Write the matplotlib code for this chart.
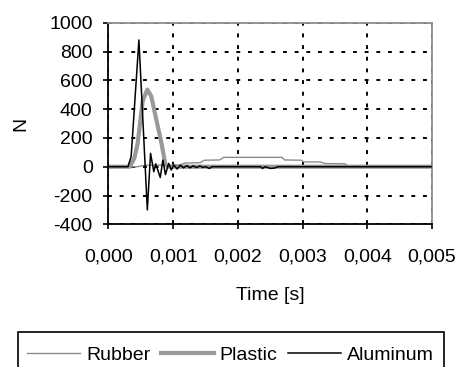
import matplotlib
matplotlib.use("Agg")
import matplotlib.pyplot as plt
from matplotlib.ticker import FixedLocator, FixedFormatter
from matplotlib.patches import Rectangle

plt.rcParams['font.family'] = ['Liberation Sans', 'DejaVu Sans']
plt.rcParams['axes.unicode_minus'] = False

# ---- data (time in s, force in N) ----
rubber_t = [0, 0.00045, 0.00056, 0.00110, 0.00118, 0.00142, 0.00148, 0.00172, 0.00178,
            0.00268, 0.00272, 0.00298, 0.00302, 0.00328, 0.00334, 0.00366, 0.00370, 0.005]
rubber_v = [0, 0, 10, 12, 25, 28, 45, 47, 65, 65, 47, 45, 33, 33, 22, 20, 0, 0]

plastic_t = [0, 0.00033, 0.00040, 0.00045, 0.00053, 0.00060, 0.00066, 0.00074, 0.00082,
             0.00088, 0.00092, 0.005]
plastic_v = [0, 0, 60, 160, 460, 535, 490, 325, 160, 15, 0, 0]

aluminum_t = [0, 0.00030, 0.00035, 0.00047, 0.00060, 0.00065, 0.00070, 0.00073, 0.00080,
              0.00084, 0.00088, 0.00093, 0.00097, 0.00101, 0.00106, 0.00111, 0.00116,
              0.00121, 0.00126, 0.00131, 0.00136, 0.00141, 0.00146, 0.00150, 0.00156,
              0.00160, 0.00235, 0.00238, 0.00242, 0.00250, 0.00256, 0.00262, 0.005]
aluminum_v = [0, 0, 70, 880, -300, 93, -35, 20, -75, 46, -55, 23, -23, 12, -16, 10, -8,
              8, -8, 6, -6, 5, -5, 0, -12, 0, 0, -12, 0, -12, -10, 0, 0]

x_ticks = [0, 0.001, 0.002, 0.003, 0.004, 0.005]
x_tick_labels = ["0,000", "0,001", "0,002", "0,003", "0,004", "0,005"]
y_ticks = [-400, -200, 0, 200, 400, 600, 800, 1000]

series_labels = ["Rubber", "Plastic", "Aluminum"]

FS = 14
W, H = 456, 367

fig = plt.figure(figsize=(W/100, H/100), dpi=100)
ax = fig.add_axes([108.5/W, 1-224.3/H, (432-108.5)/W, (224.3-22.7)/H])

l_r, = ax.plot(rubber_t, rubber_v, color='#8c8c8c', lw=1.0, zorder=3, label=series_labels[0])
l_p, = ax.plot(plastic_t, plastic_v, color='#999999', lw=3.0, zorder=2, label=series_labels[1],
               solid_joinstyle='round')
l_a, = ax.plot(aluminum_t, aluminum_v, color='black', lw=1.1, zorder=4, label=series_labels[2])

ax.set_xlim(0, 0.005)
ax.set_ylim(-400, 1000)
ax.xaxis.set_major_locator(FixedLocator(x_ticks))
ax.xaxis.set_major_formatter(FixedFormatter(x_tick_labels))
ax.set_yticks(y_ticks)

ax.grid(True, color='black', linestyle=(0, (2, 4)), linewidth=1.4)
ax.set_axisbelow(True)

for s in ['left', 'bottom']:
    ax.spines[s].set_color('black')
    ax.spines[s].set_linewidth(1.3)
for s in ['top', 'right']:
    ax.spines[s].set_color('#8c8c8c')
    ax.spines[s].set_linewidth(1.3)

ax.tick_params(axis='both', direction='out', length=3.6, width=1.2, labelsize=FS,
               color='black')
ax.tick_params(axis='x', pad=13.5)
ax.tick_params(axis='y', pad=7.8)

ax.set_xlabel("Time [s]", fontsize=FS, labelpad=16)
ax.set_ylabel("N", fontsize=FS, labelpad=14)

leg = fig.legend(handles=[l_r, l_p, l_a], loc='center', ncol=3,
                 bbox_to_anchor=(230.5/W, 1-355/H), fontsize=FS,
                 frameon=False, handlelength=2.73, handletextpad=0.3,
                 columnspacing=0.55, borderpad=0, borderaxespad=0)

fig.patches.append(Rectangle((18.3/W, 1-400/H), (444.3-18.3)/W, (400-332)/H,
                             transform=fig.transFigure, fill=False,
                             edgecolor='black', linewidth=1.2))

fig.savefig("out.png", dpi=100)
